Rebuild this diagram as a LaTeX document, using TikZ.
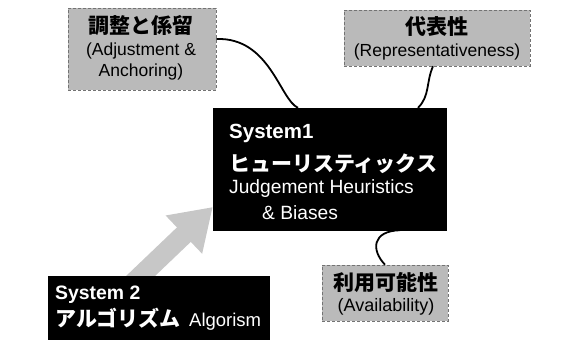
\documentclass[tikz,border=0pt]{standalone}
\usepackage{fontspec}
\setmainfont{Liberation Sans}
\newfontfamily\jpfont{Noto Sans CJK JP}
\usetikzlibrary{arrows.meta}
\tikzset{
  graybox/.style={rectangle, fill=black!27, draw=black!55, densely dashed, line width=0.6pt, inner sep=0pt},
  blackbox/.style={rectangle, fill=black, draw=black, inner sep=0pt},
  wtext/.style={text=white, inner sep=0pt},
  btext/.style={text=black, inner sep=0pt},
  link/.style={draw=black, line width=1.8pt},
  fatarrow/.style={draw=black!22, line width=20pt, -{Triangle[length=40pt,width=50pt]}}
}
\begin{document}
\begin{tikzpicture}[x=1pt,y=-1pt]
\useasboundingbox (0,0) rectangle (573,341);
% boxes
\node[graybox, minimum width=148pt, minimum height=82pt] (A) at (142,49) {};
\node[graybox, minimum width=186pt, minimum height=56pt] (B) at (437,38) {};
\node[graybox, minimum width=126pt, minimum height=56pt] (Av) at (385,293) {};
\node[blackbox, minimum width=233pt, minimum height=122pt] (S1) at (329.5,169) {};
% big arrow from System 2 to System 1
\coordinate (tail) at (125.9,290);
\draw[fatarrow] (tail) -- ([yshift=-38pt]S1.west);
\node[blackbox, minimum width=221pt, minimum height=63pt] (S2) at (158.5,307.5) {};
% connectors
\draw[link] ([yshift=10pt]A.east) .. controls (270,37) and (280,100) .. ([xshift=-31.5pt]S1.north);
\draw[link] ([xshift=-4pt]B.south) .. controls (426,82) and (430,96) .. ([xshift=88.5pt]S1.north);
\draw[link] ([xshift=70.5pt]S1.south) .. controls (372,231) and (371,250) .. (Av.north);
% texts in gray boxes
\node[btext, anchor=base] (a1) at (141,33) {\jpfont\bfseries\fontsize{21}{21}\selectfont 調整と係留};
\node[btext, anchor=base] (a2) at (141,55) {\fontsize{17.5}{17.5}\selectfont (Adjustment \&};
\node[btext, anchor=base] (a3) at (141,76) {\fontsize{17.5}{17.5}\selectfont Anchoring)};
\node[btext, anchor=base] (b1) at (437,34) {\jpfont\bfseries\fontsize{21}{21}\selectfont 代表性};
\node[btext, anchor=base] (b2) at (437,56) {\fontsize{17.5}{17.5}\selectfont (Representativeness)};
\node[btext, anchor=base] (c1) at (386,290) {\jpfont\bfseries\fontsize{21}{21}\selectfont 利用可能性};
\node[btext, anchor=base] (c2) at (386,311) {\fontsize{18}{18}\selectfont (Availability)};
% System 1 texts
\node[wtext, anchor=base west] (s11) at (229,138) {\bfseries\fontsize{20.5}{20.5}\selectfont System1};
\node[wtext, anchor=base west] (s12) at (229,171) {\jpfont\bfseries\fontsize{21}{21}\selectfont ヒューリスティックス};
\node[wtext, anchor=base west] (s13) at (229,193) {\fontsize{19.2}{19.2}\selectfont Judgement Heuristics};
\node[wtext, anchor=base west] (s14) at (262,219) {\fontsize{19.2}{19.2}\selectfont \& Biases};
% System 2 texts
\node[wtext, anchor=base west] (s21) at (55,299) {\bfseries\fontsize{19.4}{19.4}\selectfont System 2};
\node[wtext, anchor=base west] (s22) at (55,326) {\jpfont\bfseries\fontsize{21}{21}\selectfont アルゴリズム};
\node[wtext, anchor=base west] (s23) at (189,326) {\fontsize{18.5}{18.5}\selectfont Algorism};
\end{tikzpicture}
\end{document}
